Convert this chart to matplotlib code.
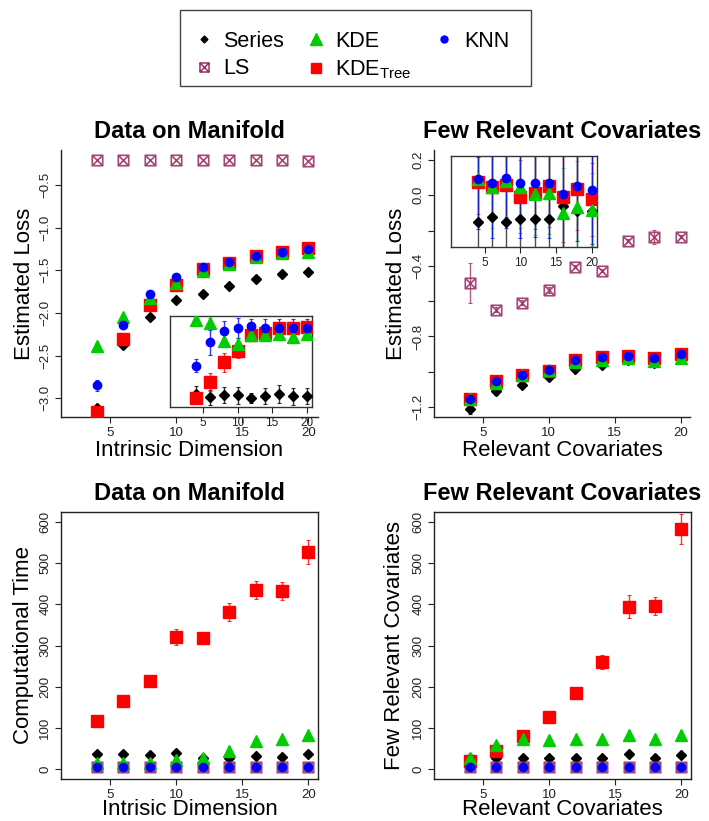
import matplotlib
matplotlib.use("Agg")
import matplotlib.pyplot as plt
from matplotlib.path import Path
from matplotlib.lines import Line2D
from matplotlib.patches import Rectangle

plt.rcParams['font.family'] = ['Liberation Sans', 'DejaVu Sans']
plt.rcParams['mathtext.fontset'] = 'custom'
plt.rcParams['mathtext.rm'] = 'Liberation Sans'
plt.rcParams['mathtext.it'] = 'Liberation Sans:italic'

# ---------------- data ----------------
x = [4, 6, 8, 10, 12, 14, 16, 18, 20]

# Top-left: Data on Manifold, estimated loss
series_tl = [-3.12, -2.38, -2.045, -1.85, -1.78, -1.685, -1.60, -1.548, -1.525]
ls_tl = [-0.205, -0.21, -0.21, -0.207, -0.21, -0.21, -0.21, -0.21, -0.22]
kde_tl = [-2.39, -2.05, -1.83, -1.65, -1.505, -1.43, -1.35, -1.30, -1.28]
tree_tl = [-3.16, -2.30, -1.91, -1.67, -1.48, -1.42, -1.33, -1.28, -1.24]
knn_tl = [-2.85, -2.14, -1.78, -1.575, -1.46, -1.40, -1.33, -1.28, -1.255]
knn_tl_err = [0.06, 0.05, 0.03, 0.03, 0.02, 0.02, 0.02, 0.02, 0.02]
series_tl_err = [0.02, 0.02, 0.01, 0.01, 0.01, 0.01, 0.01, 0.01, 0.01]

# Top-left inset (relative scale)
series_in1 = [0.142, 0.105, 0.135, 0.127, 0.099, 0.124, 0.142, 0.116, 0.124]
series_in1_err = [0.09, 0.08, 0.09, 0.09, 0.06, 0.09, 0.10, 0.09, 0.09]
kde_in1 = [0.956, 0.927, 0.73, 0.69, 0.79, 0.79, 0.80, 0.767, 0.80]
kde_in1_err = [0.05, 0.05, 0.06, 0.07, 0.06, 0.06, 0.06, 0.06, 0.06]
tree_in1 = [0.099, 0.274, 0.49, 0.61, 0.79, 0.817, 0.87, 0.865, 0.883]
tree_in1_err = [0.04, 0.1, 0.1, 0.07, 0.05, 0.05, 0.05, 0.05, 0.05]
knn_in1 = [0.452, 0.71, 0.836, 0.865, 0.894, 0.87, 0.87, 0.865, 0.865]
knn_in1_err = [0.07, 0.14, 0.11, 0.11, 0.07, 0.1, 0.1, 0.1, 0.1]

# Top-right: Few Relevant Covariates, estimated loss
ls_tr = [-0.498, -0.649, -0.608, -0.536, -0.404, -0.427, -0.257, -0.238, -0.234]
ls_tr_err = [0.113, 0.015, 0.015, 0.015, 0.01, 0.01, 0.01, 0.04, 0.01]
series_tr = [-1.213, -1.106, -1.074, -1.03, -0.983, -0.964, -0.935, -0.95, -0.93]
series_tr_err = [0.025, 0.025, 0.015, 0.015, 0.015, 0.015, 0.015, 0.015, 0.015]
kde_tr = [-1.153, -1.064, -1.017, -0.992, -0.945, -0.936, -0.921, -0.94, -0.921]
tree_tr = [-1.153, -1.053, -1.02, -0.998, -0.936, -0.917, -0.908, -0.921, -0.898]
knn_tr = [-1.153, -1.053, -1.017, -0.989, -0.932, -0.917, -0.911, -0.921, -0.898]
knn_tr_err = [0.02, 0.025, 0.02, 0.02, 0.025, 0.02, 0.02, 0.02, 0.02]

# Top-right inset (relative scale)
series_in2 = [0.274, 0.329, 0.28, 0.31, 0.307, 0.307, 0.452, 0.398, 0.40]
series_in2_err = [0.72, 0.7, 0.72, 0.7, 0.7, 0.7, 0.6, 0.6, 0.6]
kde_in2 = [0.745, 0.664, 0.72, 0.664, 0.584, 0.598, 0.372, 0.445, 0.409]
kde_in2_err = [0.45, 0.45, 0.45, 0.45, 0.45, 0.45, 0.5, 0.5, 0.4]
tree_in2 = [0.718, 0.664, 0.682, 0.554, 0.598, 0.671, 0.554, 0.635, 0.525]
tree_in2_err = [0.35, 0.35, 0.35, 0.4, 0.4, 0.45, 0.5, 0.45, 0.4]
knn_in2 = [0.751, 0.70, 0.755, 0.70, 0.708, 0.70, 0.58, 0.671, 0.628]
knn_in2_err = [0.55, 0.6, 0.55, 0.6, 0.6, 0.6, 0.6, 0.6, 0.6]

# Bottom-left: Data on Manifold, computational time
tree_bl = [117, 166, 214, 320, 317, 382, 434, 432, 527]
tree_bl_err = [5, 5, 5, 19, 12, 22, 22, 22, 28]
kde_bl = [14, 14, 14, 22, 26, 44, 69, 74, 82]
series_bl = [36, 36, 35, 40, 28, 28, 32, 30, 36]
ls_bl = [6, 6, 6, 6, 6, 6, 6, 6, 6]
knn_bl = [4, 4, 4, 4, 4, 4, 4, 4, 4]

# Bottom-right: Few Relevant Covariates, computational time
tree_br = [20, 44, 81, 127, 185, 259, 394, 396, 583]
tree_br_err = [3, 3, 3, 4, 6, 17, 28, 21, 36]
kde_br = [28, 58, 74, 70, 72, 72, 84, 74, 82]
series_br = [28, 28, 28, 27, 27, 28, 36, 28, 34]
ls_br = [6, 6, 6, 6, 6, 6, 6, 6, 6]
knn_br = [4, 4, 4, 4, 4, 4, 4, 4, 4]

ticks_x = [5, 10, 15, 20]
labels_x = ['5', '10', '15', '20']

# ---------------- styles ----------------
C_SER = 'black'
C_LS = '#993366'
C_KDE = '#00CD00'
C_TREE = '#FF0000'
C_KNN = '#0000FF'

ls_path = Path([(-1, -1), (1, -1), (1, 1), (-1, 1), (-1, -1),
                (-1, -1), (1, 1), (-1, 1), (1, -1)],
               [Path.MOVETO, Path.LINETO, Path.LINETO, Path.LINETO, Path.CLOSEPOLY,
                Path.MOVETO, Path.LINETO, Path.MOVETO, Path.LINETO])

MS = dict(ser=5.0, ls=7.5, kde=8.5, tree=8.0, knn=6.0)

W, H = 709, 821
fig = plt.figure(figsize=(W / 100, H / 100), dpi=100)


def ax_px(l, t, r, b):
    return [l / W, 1 - b / H, (r - l) / W, (b - t) / H]


def draw(ax, xs, y, kind, err=None, ealpha=0.8):
    col = {'ser': C_SER, 'ls': C_LS, 'kde': C_KDE, 'tree': C_TREE, 'knn': C_KNN}[kind]
    if err is not None:
        ax.errorbar(xs, y, yerr=err, fmt='none', ecolor=col, elinewidth=1.0,
                    capsize=1.5, capthick=0.8, alpha=ealpha, zorder=2)
    if kind == 'ser':
        ax.plot(xs, y, ls='none', marker='D', ms=MS['ser'], color=col, zorder=3)
    elif kind == 'ls':
        ax.plot(xs, y, ls='none', marker=ls_path, ms=MS['ls'], mfc='none',
                mec=col, mew=1.2, alpha=0.9, zorder=3)
    elif kind == 'kde':
        ax.plot(xs, y, ls='none', marker='^', ms=MS['kde'], color=col, zorder=5)
    elif kind == 'tree':
        ax.plot(xs, y, ls='none', marker='s', ms=MS['tree'], color=col, zorder=4)
    elif kind == 'knn':
        ax.plot(xs, y, ls='none', marker='o', ms=MS['knn'], color=col, zorder=6)


def style_main(ax, full_box):
    for s in ['left', 'bottom', 'top', 'right']:
        ax.spines[s].set_linewidth(1.0)
        ax.spines[s].set_color('#222222')
    if not full_box:
        ax.spines['top'].set_visible(False)
        ax.spines['right'].set_visible(False)
    ax.tick_params(direction='out', length=4, width=0.8, labelsize=9.5, pad=3,
                   colors='#222222')
    ax.set_xticks(ticks_x)
    ax.set_xticklabels(labels_x)
    for lab in ax.get_yticklabels():
        lab.set_rotation(90)
        lab.set_va('center')


def style_inset(ax):
    ax.set_facecolor('none')
    for s in ax.spines.values():
        s.set_linewidth(1.0)
        s.set_color('#333333')
    ax.set_xlim(0.24, 20.76)
    ax.set_ylim(0, 1)
    ax.set_yticks([])
    ax.set_xticks(ticks_x)
    ax.set_xticklabels(labels_x)
    ax.tick_params(axis='x', direction='out', length=4, width=0.8, labelsize=8.5,
                   pad=3.5, colors='#222222')


# ---------- Top-left ----------
ax1 = fig.add_axes(ax_px(61, 150, 318, 417))
draw(ax1, x, series_tl, 'ser', series_tl_err)
draw(ax1, x, ls_tl, 'ls')
draw(ax1, x, tree_tl, 'tree')
draw(ax1, x, kde_tl, 'kde')
draw(ax1, x, knn_tl, 'knn', knn_tl_err)
ax1.set_xlim(1.28, 20.72)
ax1.set_ylim(-3.22, -0.09)
ax1.set_yticks([-3.0, -2.5, -2.0, -1.5, -1.0, -0.5])
ax1.set_yticklabels(['\u22123.0', '\u22122.5', '\u22122.0', '\u22121.5', '\u22121.0', '\u22120.5'])
style_main(ax1, False)
ax1.set_title('Data on Manifold', fontsize=17, fontweight='bold', pad=9)
ax1.set_xlabel('Intrinsic Dimension', fontsize=16, labelpad=1)
ax1.set_ylabel('Estimated Loss', fontsize=16, labelpad=3)

in1 = fig.add_axes(ax_px(170, 316, 312, 407))
draw(in1, x, series_in1, 'ser', series_in1_err)
draw(in1, x, tree_in1, 'tree', tree_in1_err)
draw(in1, x, kde_in1, 'kde', kde_in1_err)
draw(in1, x, knn_in1, 'knn', knn_in1_err)
style_inset(in1)

# ---------- Top-right ----------
ax2 = fig.add_axes(ax_px(434, 150, 690, 417))
draw(ax2, x, series_tr, 'ser', series_tr_err)
draw(ax2, x, ls_tr, 'ls', ls_tr_err)
draw(ax2, x, tree_tr, 'tree')
draw(ax2, x, kde_tr, 'kde')
draw(ax2, x, knn_tr, 'knn', knn_tr_err)
ax2.set_xlim(1.28, 20.72)
ax2.set_ylim(-1.256, 0.256)
ax2.set_yticks([0.2, 0.0, -0.2, -0.4, -0.6, -0.8, -1.0, -1.2])
ax2.set_yticklabels(['0.2', '0.0', '', '\u22120.4', '', '\u22120.8', '', '\u22121.2'])
style_main(ax2, False)
ax2.set_title('Few Relevant Covariates', fontsize=17, fontweight='bold', pad=9)
ax2.set_xlabel('Relevant Covariates', fontsize=16, labelpad=1)
ax2.set_ylabel('Estimated Loss', fontsize=16, labelpad=4)

in2 = fig.add_axes(ax_px(451, 156, 597, 247))
draw(in2, x, series_in2, 'ser', series_in2_err, ealpha=0.7)
draw(in2, x, tree_in2, 'tree', tree_in2_err, ealpha=0.6)
draw(in2, x, kde_in2, 'kde', kde_in2_err, ealpha=0.6)
draw(in2, x, knn_in2, 'knn', knn_in2_err, ealpha=0.7)
style_inset(in2)

# ---------- Bottom-left ----------
ax3 = fig.add_axes(ax_px(61, 512, 318, 779))
draw(ax3, x, series_bl, 'ser')
draw(ax3, x, ls_bl, 'ls')
draw(ax3, x, tree_bl, 'tree', tree_bl_err)
draw(ax3, x, kde_bl, 'kde')
draw(ax3, x, knn_bl, 'knn')
ax3.set_xlim(1.28, 20.72)
ax3.set_ylim(-24, 624)
ax3.set_yticks([0, 100, 200, 300, 400, 500, 600])
style_main(ax3, True)
ax3.set_title('Data on Manifold', fontsize=17, fontweight='bold', pad=9)
ax3.set_xlabel('Intrisic Dimension', fontsize=16, labelpad=-1)
ax3.set_ylabel('Computational Time', fontsize=16, labelpad=4)

# ---------- Bottom-right ----------
ax4 = fig.add_axes(ax_px(434, 512, 691, 779))
draw(ax4, x, series_br, 'ser')
draw(ax4, x, ls_br, 'ls')
draw(ax4, x, tree_br, 'tree', tree_br_err)
draw(ax4, x, kde_br, 'kde')
draw(ax4, x, knn_br, 'knn')
ax4.set_xlim(1.28, 20.72)
ax4.set_ylim(-24, 624)
ax4.set_yticks([0, 100, 200, 300, 400, 500, 600])
style_main(ax4, True)
ax4.set_title('Few Relevant Covariates', fontsize=17, fontweight='bold', pad=9)
ax4.set_xlabel('Relevant Covariates', fontsize=16, labelpad=-1)
ax4.set_ylabel('Few Relevant Covariates', fontsize=16, labelpad=5)

# ---------- Legend ----------
handles = [
    Line2D([], [], ls='none', marker='D', ms=3.5, color=C_SER),
    Line2D([], [], ls='none', marker=ls_path, ms=6.5, mfc='none', mec=C_LS, mew=1.1),
    Line2D([], [], ls='none', marker='^', ms=9, color=C_KDE),
    Line2D([], [], ls='none', marker='s', ms=7, color=C_TREE),
    Line2D([], [], ls='none', marker='o', ms=5, color=C_KNN),
]
labels = ['Series', 'LS', 'KDE', r'KDE$_{\mathrm{Tree}}$', 'KNN']
fig.legend(handles, labels, ncol=3, loc='center', bbox_to_anchor=(0.495, 1 - 56 / H),
           frameon=False, fontsize=15.5, handlelength=1.0, handletextpad=0.4,
           columnspacing=1.0, labelspacing=0.3, borderpad=0)
fig.patches.append(Rectangle((180 / W, 1 - 86 / H), 351 / W, 76 / H,
                             transform=fig.transFigure, fill=False,
                             ec='#444444', lw=1.0))

fig.savefig('out.png', dpi=100)
